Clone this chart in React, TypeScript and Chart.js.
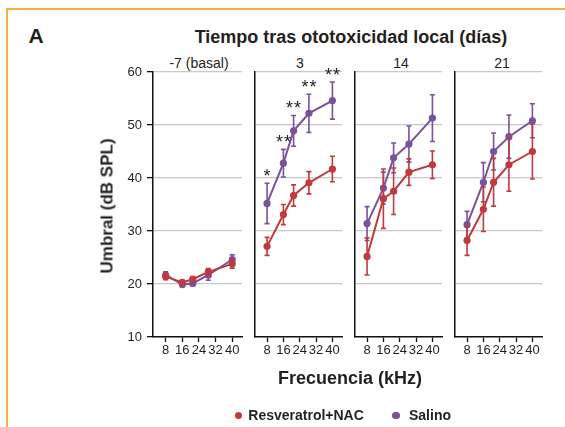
import React, { useEffect, useRef } from 'react';
import { Chart, registerables } from 'chart.js';

Chart.register(...registerables);

// ---------- data ----------
const frequencies = [8, 16, 21, 28.5, 40];
const xTickValues = [8, 16, 24, 32, 40];
const yTickValues = [10, 20, 30, 40, 50, 60];
const panelTitles = ['-7 (basal)', '3', '14', '21'];
const seriesNames = ['Resveratrol+NAC', 'Salino'];

const resvBasal = [21.4, 20.3, 20.9, 22.3, 23.8];
const resvDay3 = [27.1, 33.1, 36.7, 39.1, 41.7];
const resvDay14 = [25.2, 36.1, 37.5, 41.1, 42.5];
const resvDay21 = [28.2, 34.1, 39.2, 42.5, 45.0];

const resvErrBasal = [0.6, 0.4, 0.5, 0.6, 0.8];
const resvErrDay3 = [1.7, 1.9, 2.0, 2.1, 2.4];
const resvErrDay14 = [3.5, 5.6, 4.4, 2.5, 2.6];
const resvErrDay21 = [2.8, 4.2, 4.5, 5.0, 5.2];

const salBasal = [21.7, 19.9, 20.1, 21.7, 24.6];
const salDay3 = [35.2, 42.8, 48.9, 52.2, 54.6];
const salDay14 = [31.4, 38.1, 43.8, 46.4, 51.3];
const salDay21 = [31.2, 39.2, 45.0, 47.8, 50.8];

const salErrBasal = [0.6, 0.4, 0.4, 1.0, 0.9];
const salErrDay3 = [3.8, 2.6, 2.9, 3.6, 3.5];
const salErrDay14 = [3.2, 3.0, 2.8, 3.4, 4.4];
const salErrDay21 = [2.5, 3.7, 3.5, 4.1, 3.2];

const starsBasal = [0, 0, 0, 0, 0];
const starsDay3 = [1, 2, 2, 2, 2];
const starsDay14 = [0, 0, 0, 0, 0];
const starsDay21 = [0, 0, 0, 0, 0];

const resvMeans = [resvBasal, resvDay3, resvDay14, resvDay21];
const resvErrs = [resvErrBasal, resvErrDay3, resvErrDay14, resvErrDay21];
const salMeans = [salBasal, salDay3, salDay14, salDay21];
const salErrs = [salErrBasal, salErrDay3, salErrDay14, salErrDay21];
const starCounts = [starsBasal, starsDay3, starsDay14, starsDay21];

// ---------- style / layout ----------
const FONT = "'Liberation Sans', Arial, Helvetica, sans-serif";
const RED = '#c0393f';
const PURPLE = '#7a519c';
const TEXT = '#231f20';
const GRID = '#c8c8c8';
const ORANGE = '#f8b23a';

const plotTop = 72;
const plotH = 265;
const panelLefts = [153, 253, 353, 453];
const panelW = 89;
const panelTitleCenters = [199, 300, 401, 502];
const padTop = 14;
const padRight = 6;
const xAxisH = 32;

Chart.defaults.font.family = FONT;

const errorBarPlugin = {
  id: 'errorBars',
  beforeDatasetDraw(chart: any, args: any) {
    const ds = chart.data.datasets[args.index];
    const errs: number[] = ds.errors;
    if (!errs) return;
    const xs = chart.scales.x;
    const ys = chart.scales.y;
    const ctx = chart.ctx;
    ctx.save();
    ctx.strokeStyle = ds.borderColor;
    ctx.lineWidth = 1.6;
    ds.data.forEach((p: any, i: number) => {
      const x = xs.getPixelForValue(p.x);
      const yt = ys.getPixelForValue(p.y + errs[i]);
      const yb = ys.getPixelForValue(p.y - errs[i]);
      ctx.beginPath();
      ctx.moveTo(x, yt);
      ctx.lineTo(x, yb);
      ctx.moveTo(x - 2.5, yt);
      ctx.lineTo(x + 2.5, yt);
      ctx.moveTo(x - 2.5, yb);
      ctx.lineTo(x + 2.5, yb);
      ctx.stroke();
    });
    ctx.restore();
  },
};

const starPlugin = {
  id: 'stars',
  afterDatasetsDraw(chart: any) {
    const opts = chart.options.plugins.stars;
    if (!opts) return;
    const counts: number[] = opts.counts;
    const means: number[] = opts.means;
    const errs: number[] = opts.errs;
    const xs = chart.scales.x;
    const ys = chart.scales.y;
    const ctx = chart.ctx;
    ctx.save();
    ctx.fillStyle = TEXT;
    ctx.font = `18px ${FONT}`;
    ctx.textAlign = 'center';
    ctx.textBaseline = 'alphabetic';
    counts.forEach((n, i) => {
      if (!n) return;
      const x = xs.getPixelForValue(frequencies[i]);
      const y = ys.getPixelForValue(means[i] + errs[i]) - 1;
      for (let k = 0; k < n; k++) {
        const dx = (k - (n - 1) / 2) * 8;
        ctx.fillText('*', x + dx, y);
      }
    });
    ctx.restore();
  },
};

function Panel({ index }: { index: number }) {
  const ref = useRef<HTMLCanvasElement>(null);
  const yW = index === 0 ? 50 : 2;
  const width = yW + panelW + padRight;
  const height = padTop + plotH + xAxisH;
  const left = panelLefts[index] - yW;
  const top = plotTop - padTop;

  useEffect(() => {
    if (!ref.current) return;
    const mk = (label: string, means: number[], errs: number[], color: string) => ({
      label,
      data: frequencies.map((f, i) => ({ x: f, y: means[i] })),
      errors: errs,
      borderColor: color,
      backgroundColor: color,
      borderWidth: 2,
      pointRadius: 3.6,
      pointHoverRadius: 3.6,
      pointBorderWidth: 0,
      tension: 0,
    });
    const chart = new Chart(ref.current, {
      type: 'line',
      data: {
        datasets: [
          mk(seriesNames[0], resvMeans[index], resvErrs[index], RED),
          mk(seriesNames[1], salMeans[index], salErrs[index], PURPLE),
        ] as any,
      },
      options: {
        animation: false,
        responsive: false,
        maintainAspectRatio: false,
        devicePixelRatio: 1,
        events: [],
        layout: { padding: { top: padTop, right: padRight, left: 0, bottom: 0 } },
        plugins: {
          legend: { display: false },
          tooltip: { enabled: false },
          title: { display: false },
          stars: { counts: starCounts[index], means: salMeans[index], errs: salErrs[index] },
        } as any,
        scales: {
          x: {
            type: 'linear',
            min: 1.9,
            max: 44.7,
            afterBuildTicks: (a: any) => {
              a.ticks = xTickValues.map((v) => ({ value: v }));
            },
            afterFit: (s: any) => {
              s.height = xAxisH;
            },
            grid: {
              drawOnChartArea: false,
              drawTicks: true,
              tickLength: 5,
              tickColor: '#111',
              tickWidth: 1.3,
            },
            border: { display: true, color: '#111', width: 1.5 },
            ticks: {
              color: TEXT,
              font: { size: 13, family: FONT },
              padding: 1,
              maxRotation: 0,
              autoSkip: false,
            },
          },
          y: {
            type: 'linear',
            min: 10,
            max: 60,
            afterBuildTicks: (a: any) => {
              a.ticks = yTickValues.map((v) => ({ value: v }));
            },
            afterFit: (s: any) => {
              s.width = yW;
            },
            grid: {
              color: (c: any) => (c.tick && c.tick.value === 10 ? 'rgba(0,0,0,0)' : GRID),
              lineWidth: 1.3,
              drawTicks: index === 0,
              tickLength: 6,
              tickColor: '#111',
              tickWidth: 1.3,
            },
            border: { display: true, color: '#111', width: 1.5 },
            ticks: {
              display: index === 0,
              color: TEXT,
              font: { size: 13, family: FONT },
              padding: 5,
            },
          },
        },
      } as any,
      plugins: [errorBarPlugin, starPlugin],
    });
    return () => chart.destroy();
  }, [index]);

  return (
    <div style={{ position: 'absolute', left, top, width, height }}>
      <canvas ref={ref} width={width} height={height} style={{ width, height, display: 'block' }} />
    </div>
  );
}

const textBase: React.CSSProperties = {
  position: 'absolute',
  fontFamily: FONT,
  color: TEXT,
  lineHeight: 1,
  whiteSpace: 'nowrap',
};

export default function App() {
  return (
    <div
      style={{
        position: 'fixed',
        left: 0,
        top: 0,
        width: 565,
        height: 427,
        background: '#fff',
        overflow: 'hidden',
      }}
    >
      <div
        style={{
          position: 'absolute',
          left: 6,
          top: 8,
          width: 600,
          height: 500,
          borderTop: `2px solid ${ORANGE}`,
          borderLeft: `2px solid ${ORANGE}`,
        }}
      />
      <div style={{ ...textBase, left: 28.5, top: 25.2, fontSize: 21, fontWeight: 'bold' }}>A</div>
      <div
        style={{
          ...textBase,
          left: 351,
          top: 27.8,
          fontSize: 18,
          fontWeight: 'bold',
          transform: 'translateX(-50%)',
        }}
      >
        Tiempo tras ototoxicidad local (días)
      </div>
      {panelTitles.map((t, i) => (
        <div
          key={t}
          style={{
            ...textBase,
            left: panelTitleCenters[i],
            top: 56.1,
            fontSize: 14,
            transform: 'translateX(-50%)',
          }}
        >
          {t}
        </div>
      ))}
      {panelTitles.map((t, i) => (
        <Panel key={t} index={i} />
      ))}
      <div
        style={{
          ...textBase,
          left: 107,
          top: 206,
          fontSize: 17,
          fontWeight: 'bold',
          transform: 'translate(-50%, -50%) rotate(-90deg)',
        }}
      >
        Umbral (dB SPL)
      </div>
      <div
        style={{
          ...textBase,
          left: 350,
          top: 368.8,
          fontSize: 18,
          fontWeight: 'bold',
          transform: 'translateX(-50%)',
        }}
      >
        Frecuencia (kHz)
      </div>
      <div
        style={{
          position: 'absolute',
          left: 238.7 - 3.6,
          top: 415.5 - 3.6,
          width: 7.2,
          height: 7.2,
          borderRadius: '50%',
          background: RED,
        }}
      />
      <div style={{ ...textBase, left: 248.3, top: 408.1, fontSize: 14, fontWeight: 'bold' }}>{seriesNames[0]}</div>
      <div
        style={{
          position: 'absolute',
          left: 396 - 3.6,
          top: 415.5 - 3.6,
          width: 7.2,
          height: 7.2,
          borderRadius: '50%',
          background: PURPLE,
        }}
      />
      <div style={{ ...textBase, left: 409, top: 408.1, fontSize: 14, fontWeight: 'bold' }}>{seriesNames[1]}</div>
    </div>
  );
}
